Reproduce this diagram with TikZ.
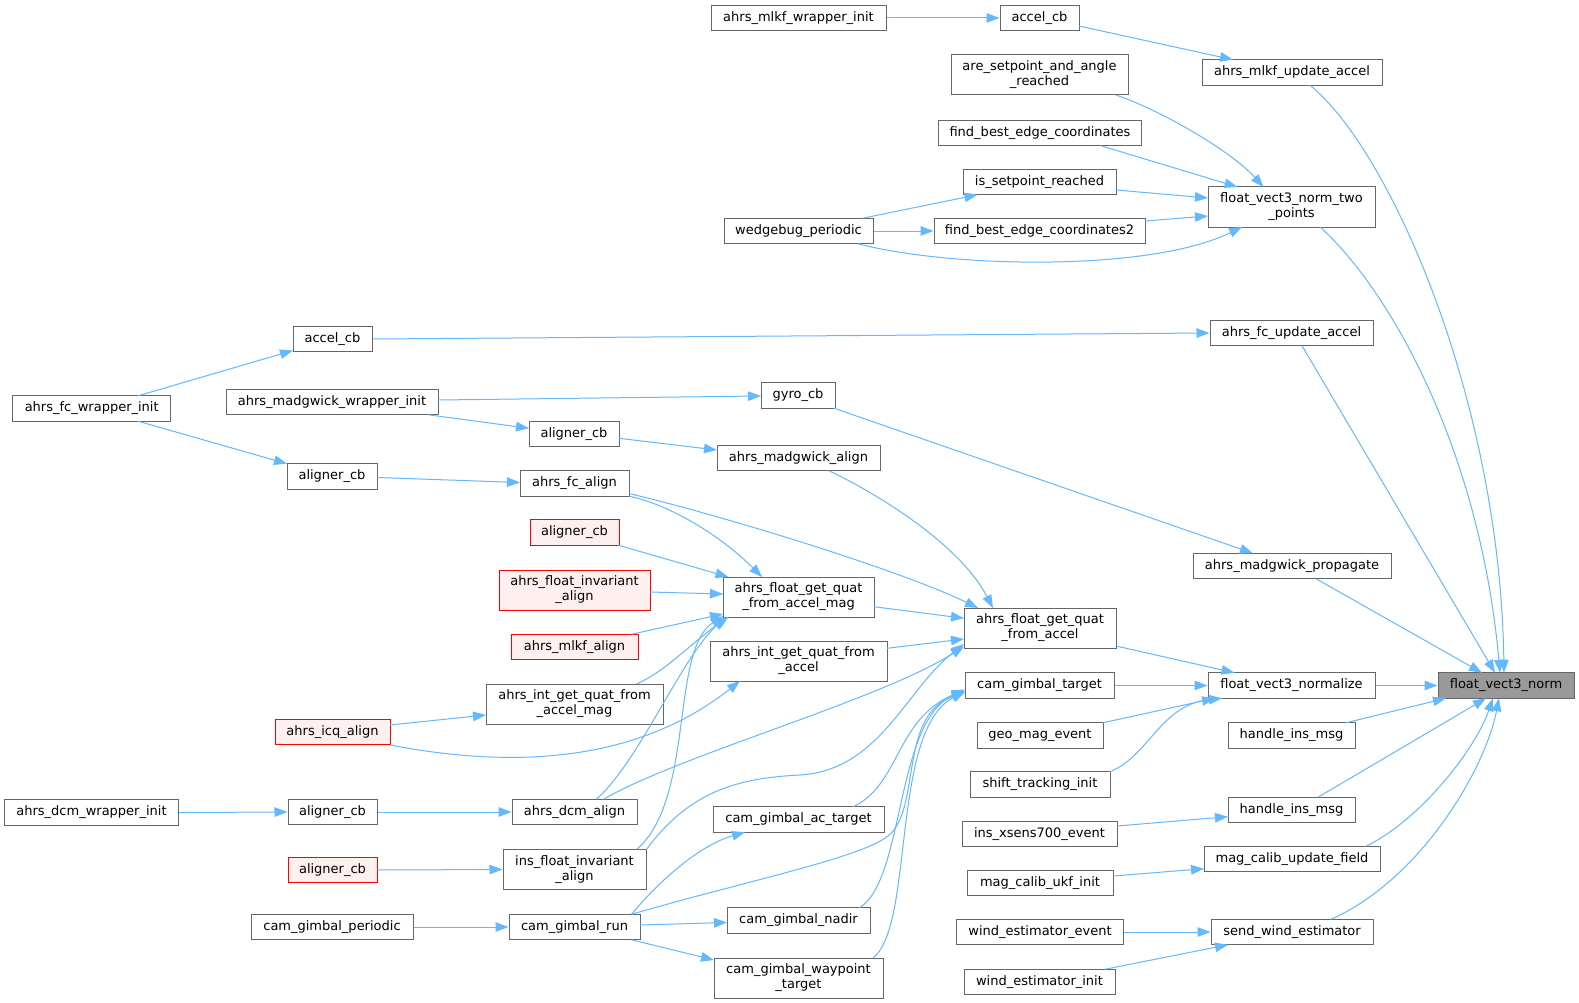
\documentclass[tikz,border=0pt]{standalone}
\usepackage{fontspec}
\setmainfont{DejaVu Sans}
\usetikzlibrary{arrows.meta}
\definecolor{edgeblue}{HTML}{63B8FF}
\definecolor{boxgray}{HTML}{666666}
\definecolor{redborder}{HTML}{FF0000}
\definecolor{redfill}{HTML}{FFF0F0}
\definecolor{rootfill}{HTML}{999999}
\begin{document}
\begin{tikzpicture}[x=1pt,y=-1pt,
  fn/.style={draw=boxgray, line width=1pt, fill=white, inner sep=0pt, minimum height=25.5pt,
    font=\fontsize{13}{15}\selectfont, text height=9.6pt, text depth=3pt},
  fntwo/.style={draw=boxgray, line width=1pt, fill=white, inner sep=0pt, minimum height=40pt,
    align=center, font=\fontsize{13}{15}\selectfont},
  ext/.style={draw=redborder, fill=redfill},
  root/.style={fill=rootfill},
  call/.style={draw=edgeblue, line width=1pt, -{Triangle[length=13pt,width=9.5pt]}},
]
\useasboundingbox (0,0) rectangle (1579,1003);
\fill[white] (0,0) rectangle (1579,1003);

% column 1
\node[fn, root, minimum width=136pt] (fvn) at (1506,685.5) {float\_vect3\_norm};
% column 2
\node[fn, minimum width=180pt] (mlkfupd) at (1292,72.5) {ahrs\_mlkf\_update\_accel};
\node[fntwo, minimum width=167pt] (fvntp) at (1291.5,207) {float\_vect3\_norm\_two\\\_points};
\node[fn, minimum width=163pt] (fcupd) at (1291.5,333) {ahrs\_fc\_update\_accel};
\node[fn, minimum width=198pt] (madprop) at (1292,566) {ahrs\_madgwick\_propagate};
\node[fn, minimum width=167pt] (fvnz) at (1291.5,685.5) {float\_vect3\_normalize};
\node[fn, minimum width=127pt] (him1) at (1291.5,735.5) {handle\_ins\_msg};
\node[fn, minimum width=127pt] (him2) at (1291.5,810) {handle\_ins\_msg};
\node[fn, minimum width=176pt] (mcuf) at (1292,859) {mag\_calib\_update\_field};
\node[fn, minimum width=162pt] (swe) at (1292,932) {send\_wind\_estimator};
% column 3
\node[fn, minimum width=79pt] (accelcbA) at (1039.5,18) {accel\_cb};
\node[fntwo, minimum width=177pt] (asar) at (1039.5,75) {are\_setpoint\_and\_angle\\\_reached};
\node[fn, minimum width=203pt] (fbec) at (1040,133) {find\_best\_edge\_coordinates};
\node[fn, minimum width=153pt] (isr) at (1039.5,182) {is\_setpoint\_reached};
\node[fn, minimum width=211pt] (fbecB) at (1039.5,231) {find\_best\_edge\_coordinates2};
\node[fntwo, minimum width=152pt] (fgqa) at (1040,628) {ahrs\_float\_get\_quat\\\_from\_accel};
\node[fn, minimum width=149pt] (cgt) at (1039.5,685.5) {cam\_gimbal\_target};
\node[fn, minimum width=126pt] (gme) at (1040,735.5) {geo\_mag\_event};
\node[fn, minimum width=140pt] (sti) at (1040,784.5) {shift\_tracking\_init};
\node[fn, minimum width=155pt] (ixe) at (1039.5,834) {ins\_xsens700\_event};
\node[fn, minimum width=146pt] (mcui) at (1040,883) {mag\_calib\_ukf\_init};
\node[fn, minimum width=167pt] (wee) at (1040,932) {wind\_estimator\_event};
\node[fn, minimum width=151pt] (wei) at (1039.5,982) {wind\_estimator\_init};
% column 4
\node[fn, minimum width=175pt] (mlkfwi) at (798.5,18) {ahrs\_mlkf\_wrapper\_init};
\node[fn, minimum width=149pt] (wedge) at (798.5,231) {wedgebug\_periodic};
\node[fn, minimum width=74pt] (gyro) at (798,395.5) {gyro\_cb};
\node[fn, minimum width=163pt] (madalign) at (798.5,458) {ahrs\_madgwick\_align};
\node[fntwo, minimum width=151pt] (fgqam) at (798.5,597) {ahrs\_float\_get\_quat\\\_from\_accel\_mag};
\node[fntwo, minimum width=177pt] (igqa) at (798.5,661) {ahrs\_int\_get\_quat\_from\\\_accel};
\node[fn, minimum width=171pt] (cgat) at (798.5,819.5) {cam\_gimbal\_ac\_target};
\node[fn, minimum width=143pt] (cgn) at (798.5,920.5) {cam\_gimbal\_nadir};
\node[fntwo, minimum width=169pt] (cgwt) at (798.5,978) {cam\_gimbal\_waypoint\\\_target};
% column 5
\node[fn, minimum width=90pt] (alcbmad) at (574,434) {aligner\_cb};
\node[fn, minimum width=109pt] (fcalign) at (574.5,483.5) {ahrs\_fc\_align};
\node[fn, ext, minimum width=89pt] (alcbrA) at (574.5,532.5) {aligner\_cb};
\node[fntwo, ext, minimum width=151pt] (fia) at (574.5,590) {ahrs\_float\_invariant\\\_align};
\node[fn, ext, minimum width=127pt] (mlkfalign) at (574.5,647) {ahrs\_mlkf\_align};
\node[fntwo, minimum width=177pt] (igqam) at (574.5,704) {ahrs\_int\_get\_quat\_from\\\_accel\_mag};
\node[fn, minimum width=125pt] (dcmalign) at (574.5,812) {ahrs\_dcm\_align};
\node[fntwo, minimum width=143pt] (ifia) at (574.5,869.5) {ins\_float\_invariant\\\_align};
\node[fn, minimum width=131pt] (cgr) at (574.5,927) {cam\_gimbal\_run};
% column 6
\node[fn, minimum width=79pt] (accelcbB) at (332.5,339) {accel\_cb};
\node[fn, minimum width=212pt] (madwi) at (332,402) {ahrs\_madgwick\_wrapper\_init};
\node[fn, minimum width=90pt] (alcbfc) at (332,476.5) {aligner\_cb};
\node[fn, ext, minimum width=115pt] (icq) at (332.5,732) {ahrs\_icq\_align};
\node[fn, minimum width=89pt] (alcbdcm) at (332.5,812) {aligner\_cb};
\node[fn, ext, minimum width=89pt] (alcbrB) at (332.5,870) {aligner\_cb};
\node[fn, minimum width=162pt] (cgp) at (332,927) {cam\_gimbal\_periodic};
% column 7
\node[fn, minimum width=158pt] (fcwi) at (91.7,408.5) {ahrs\_fc\_wrapper\_init};
\node[fn, minimum width=174pt] (dcmwi) at (91.5,812.5) {ahrs\_dcm\_wrapper\_init};

% edges into float_vect3_norm
\draw[call] ([shift={(18,12.75)}]mlkfupd.center) .. controls (1390,150) and (1500,400) .. ([shift={(-2,-12.75)}]fvn.center);
\draw[call] ([shift={(28.5,20)}]fvntp.center) .. controls (1390,290) and (1480,450) .. ([shift={(-6,-12.75)}]fvn.center);
\draw[call] ([shift={(10.5,12.75)}]fcupd.center) -- ([shift={(-11,-12.75)}]fvn.center);
\draw[call] ([shift={(24,12.75)}]madprop.center) -- ([shift={(-24,-12.75)}]fvn.center);
\draw[call] (fvnz.east) -- (fvn.west);
\draw[call] ([shift={(54.5,-12.75)}]him1.center) -- ([shift={(-60,12.75)}]fvn.center);
\draw[call] ([shift={(26.5,-12.75)}]him2.center) -- ([shift={(-20,12.75)}]fvn.center);
\draw[call] ([shift={(74,-12.75)}]mcuf.center) .. controls (1420,820) and (1475,750) .. ([shift={(-13,12.75)}]fvn.center);
\draw[call] ([shift={(39,-12.75)}]swe.center) .. controls (1420,880) and (1485,770) .. ([shift={(-7,12.75)}]fvn.center);

% top area
\draw[call] ([shift={(39.5,8)}]accelcbA.center) -- ([shift={(-59,-12.75)}]mlkfupd.center);
\draw[call] (mlkfwi.east) -- (accelcbA.west);
\draw[call] ([shift={(76.5,20)}]asar.center) .. controls (1160,110) and (1230,150) .. ([shift={(-28,-20)}]fvntp.center);
\draw[call] ([shift={(61,12.75)}]fbec.center) -- ([shift={(-54,-20)}]fvntp.center);
\draw[call] ([shift={(76.5,8)}]isr.center) -- ([shift={(-83.5,-9)}]fvntp.center);
\draw[call] ([shift={(105.5,-10)}]fbecB.center) -- ([shift={(-83.5,9)}]fvntp.center);
\draw[call] ([shift={(59.5,12.75)}]wedge.center) .. controls (950,268) and (1150,272) .. ([shift={(-49.5,20)}]fvntp.center);
\draw[call] ([shift={(64,-12.75)}]wedge.center) -- ([shift={(-62,12.75)}]isr.center);
\draw[call] (wedge.east) -- (fbecB.west);

% fc / madgwick area
\draw[call] (accelcbB.east) -- (fcupd.west);
\draw[call] ([shift={(46.5,-12.75)}]fcwi.center) -- ([shift={(-39.5,11.5)}]accelcbB.center);
\draw[call] ([shift={(46.5,12.75)}]fcwi.center) -- ([shift={(-45,-12.75)}]alcbfc.center);
\draw[call] ([shift={(36,12.75)}]gyro.center) -- ([shift={(-39,-12.75)}]madprop.center);
\draw[call] ([shift={(106,-2)}]madwi.center) -- ([shift={(-37,0.5)}]gyro.center);
\draw[call] ([shift={(96,12.75)}]madwi.center) -- ([shift={(-45,-5.7)}]alcbmad.center);
\draw[call] ([shift={(45,4.3)}]alcbmad.center) -- ([shift={(-81.5,-8)}]madalign.center);
\draw[call] ([shift={(30.5,12.75)}]madalign.center) .. controls (880,495) and (960,545) .. ([shift={(-47,-20)}]fgqa.center);
\draw[call] ([shift={(45,1)}]alcbfc.center) -- ([shift={(-54.5,-1)}]fcalign.center);
\draw[call] ([shift={(55,12.75)}]fcalign.center) .. controls (670,505) and (720,535) .. ([shift={(-36.5,-20)}]fgqam.center);
\draw[call] ([shift={(54.5,10)}]fcalign.center) .. controls (720,515) and (900,570) .. ([shift={(-62,-20)}]fgqa.center);

% into ahrs_float_get_quat_from_accel_mag
\draw[call] ([shift={(44,12.75)}]alcbrA.center) -- ([shift={(-70,-20)}]fgqam.center);
\draw[call] ([shift={(75.5,2)}]fia.center) -- ([shift={(-75.5,-3)}]fgqam.center);
\draw[call] ([shift={(57,-12.75)}]mlkfalign.center) -- ([shift={(-75.5,17)}]fgqam.center);
\draw[call] ([shift={(62,-20)}]igqam.center) .. controls (665,672) and (695,640) .. ([shift={(-70,20)}]fgqam.center);
\draw[call] ([shift={(22,-12.75)}]dcmalign.center) .. controls (640,760) and (680,660) .. ([shift={(-73,20)}]fgqam.center);
\draw[call] ([shift={(62,-20)}]ifia.center) .. controls (695,800) and (670,650) .. ([shift={(-75,19)}]fgqam.center);

% into ahrs_float_get_quat_from_accel
\draw[call] ([shift={(75.5,9.7)}]fgqam.center) -- ([shift={(-76,-9.7)}]fgqa.center);
\draw[call] ([shift={(88.5,-12.7)}]igqa.center) -- ([shift={(-76,11)}]fgqa.center);
\draw[call] ([shift={(29,-12.75)}]dcmalign.center) .. controls (680,755) and (880,700) .. ([shift={(-76,18.5)}]fgqa.center);
\draw[call] ([shift={(72,-20)}]ifia.center) .. controls (690,790) and (740,778) .. (800,775) .. controls (880,770) and (905,690) .. ([shift={(-76,16)}]fgqa.center);

% icq
\draw[call] ([shift={(57.5,-7)}]icq.center) -- ([shift={(-88.5,11)}]igqam.center);
\draw[call] ([shift={(57.5,13)}]icq.center) .. controls (520,770) and (640,760) .. ([shift={(-58.5,20)}]igqa.center);

% into float_vect3_normalize
\draw[call] ([shift={(76,18)}]fgqa.center) -- ([shift={(-57,-12.75)}]fvnz.center);
\draw[call] (cgt.east) -- (fvnz.west);
\draw[call] ([shift={(63,-12.75)}]gme.center) -- ([shift={(-76.5,12.75)}]fvnz.center);
\draw[call] ([shift={(70,-12.75)}]sti.center) .. controls (1150,755) and (1160,705) .. ([shift={(-69.5,12.75)}]fvnz.center);

% into cam_gimbal_target
\draw[call] ([shift={(57,-12.75)}]cgr.center) .. controls (750,880) and (860,858) .. (888,836) .. controls (921.6,809.6) and (898,715) .. ([shift={(-74.5,7)}]cgt.center);
\draw[call] ([shift={(54.5,-12.75)}]cgat.center) .. controls (900,785) and (895,720) .. ([shift={(-74.5,4)}]cgt.center);
\draw[call] ([shift={(61,-12.75)}]cgn.center) .. controls (905,880) and (895,720) .. ([shift={(-74.5,5)}]cgt.center);
\draw[call] ([shift={(74.5,-20)}]cgwt.center) .. controls (915,925) and (890,730) .. ([shift={(-74.5,6)}]cgt.center);

% cam_gimbal_run
\draw[call] ([shift={(57,-12.75)}]cgr.center) .. controls (660,880) and (700,845) .. ([shift={(-53.5,12.75)}]cgat.center);
\draw[call] ([shift={(65.5,-2)}]cgr.center) -- ([shift={(-71.5,2)}]cgn.center);
\draw[call] ([shift={(57,12.75)}]cgr.center) -- ([shift={(-84.5,-18)}]cgwt.center);
\draw[call] (cgp.east) -- (cgr.west);

% lower left
\draw[call] (alcbrB.east) -- (ifia.west);
\draw[call] (alcbdcm.east) -- (dcmalign.west);
\draw[call] (dcmwi.east) -- (alcbdcm.west);

% lower right
\draw[call] ([shift={(77.5,-8)}]ixe.center) -- ([shift={(-63.5,6.7)}]him2.center);
\draw[call] ([shift={(73,-7)}]mcui.center) -- ([shift={(-88,9.7)}]mcuf.center);
\draw[call] (wee.east) -- (swe.west);
\draw[call] ([shift={(65.5,-12.75)}]wei.center) -- ([shift={(-64,12.75)}]swe.center);
\end{tikzpicture}
\end{document}
